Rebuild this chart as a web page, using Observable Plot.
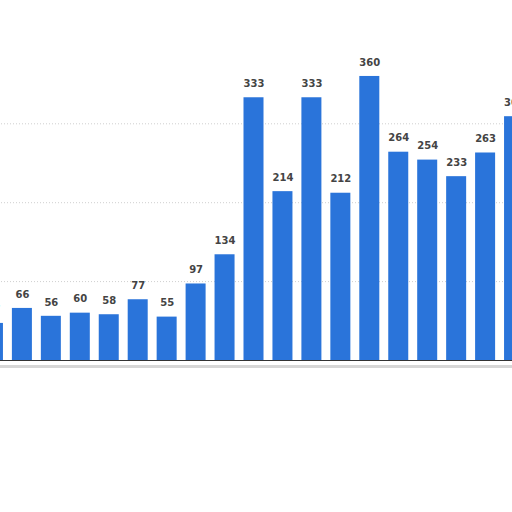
<!DOCTYPE html>
<html>
<head>
<meta charset="utf-8">
<script src="https://cdn.jsdelivr.net/npm/d3@7"></script>
<script src="https://cdn.jsdelivr.net/npm/@observablehq/plot@0.6"></script>
<style>
html, body { margin: 0; padding: 0; background: #fff; overflow: hidden; width: 512px; height: 512px; }
#chart { position: absolute; left: -26px; top: 0; width: 559px; height: 512px; }
#chart svg { max-width: none !important; width: 559px; height: 512px; }
</style>
</head>
<body>
<div id="chart"></div>
<script>
const categories = ["1","2","3","4","5","6","7","8","9","10","11","12","13","14","15","16","17","18","19"];
const values = [47, 66, 56, 60, 58, 77, 55, 97, 134, 333, 214, 333, 212, 360, 264, 254, 233, 263, 309];
const gridTicks = [100, 200, 300];

const data = categories.map((c, i) => ({cat: c, value: values[i]}));

const chart = Plot.plot({
  width: 559,
  height: 512,
  marginLeft: 0,
  marginRight: 0,
  marginTop: 44.4,
  marginBottom: 152,
  style: {background: "transparent", maxWidth: "none"},
  x: {domain: categories, padding: 0.309, round: false, axis: null},
  y: {domain: [0, 400], axis: null},
  marks: [
    Plot.ruleY(gridTicks, {stroke: "#cfcfcf", strokeDasharray: "1,2"}),
    Plot.barY(data, {x: "cat", y: "value", fill: "#2a74da"}),
    Plot.ruleY([0], {stroke: "#333", strokeWidth: 1}),
    Plot.ruleY([0], {stroke: "#ccc", strokeWidth: 3, dy: 6, strokeOpacity: 0.8}),
    Plot.text(data, {x: "cat", y: "value", text: d => String(d.value), dy: -14,
      fill: "#444", fontWeight: "bold", fontSize: 10, fontFamily: "DejaVu Sans"})
  ]
});
document.getElementById("chart").appendChild(chart);
</script>
</body>
</html>
